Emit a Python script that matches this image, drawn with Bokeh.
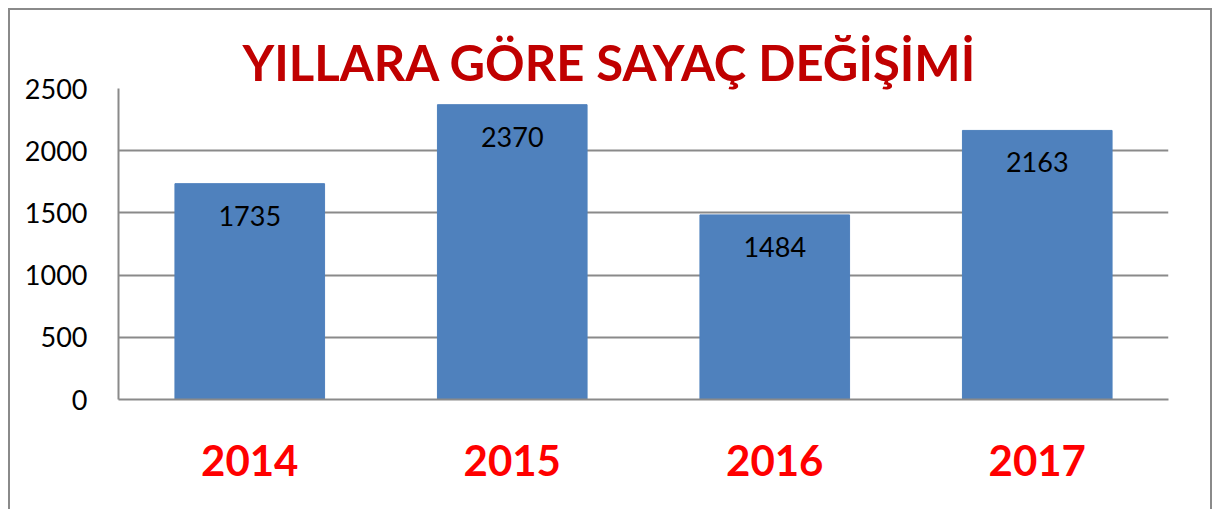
from bokeh.plotting import figure
from bokeh.models import ColumnDataSource, FixedTicker, LabelSet, Range1d
from bokeh.core.properties import value
from bokeh.embed import file_html
from bokeh.resources import INLINE

# ---- data ----
years = ["2014", "2015", "2016", "2017"]
counts = [1735, 2370, 1484, 2163]
y_ticks = [0, 500, 1000, 1500, 2000, 2500]
title_text = "YILLARA GÖRE SAYAÇ DEĞİŞİMİ"

source = ColumnDataSource(data=dict(
    year=years,
    count=counts,
    label=[str(c) for c in counts],
))

p = figure(
    x_range=years,
    y_range=Range1d(0, 2500),
    width=1204, height=501,
    output_backend="svg",
    toolbar_location=None,
    min_border_left=110, min_border_right=44,
    min_border_top=80, min_border_bottom=110,
    background_fill_color="white",
    border_fill_color=None,
)
p.styles = {
    "margin-left": "8px",
    "margin-top": "8px",
    "background-color": "white",
    "box-shadow": "inset 2px 2px 0 0 #8A8A8A, inset -2px 0 0 0 #8A8A8A",
}
p.outline_line_color = None

# title
p.title.text = title_text
p.title.align = "left"
p.title.offset = 124
p.title.standoff = -5
p.title.text_font = "Lato"
p.title.text_font_style = "bold"
p.title.text_font_size = "49px"
p.title.text_color = "#C00000"

p.vbar(x="year", top="count", width=0.57, source=source,
       fill_color="#4F81BD", line_color="#4F81BD")

labels = LabelSet(x="year", y="count", text="label", source=source,
                  text_align="center", text_baseline="middle",
                  y_offset=-32, text_font=value("Lato"),
                  text_font_size="27px", text_color="black")
p.add_layout(labels)

# y axis
p.yaxis.ticker = FixedTicker(ticks=y_ticks)
p.yaxis.major_tick_line_color = None
p.yaxis.minor_tick_line_color = None
p.yaxis.major_tick_in = 0
p.yaxis.major_tick_out = 0
p.yaxis.major_label_standoff = 31
p.yaxis.axis_line_color = "#8A8A8A"
p.yaxis.axis_line_width = 2
p.yaxis.major_label_text_font = "Lato"
p.yaxis.major_label_text_font_size = "27px"
p.yaxis.major_label_text_color = "black"

# x axis
p.xaxis.major_tick_line_color = None
p.xaxis.major_tick_in = 0
p.xaxis.major_tick_out = 0
p.xaxis.major_label_standoff = 45
p.xaxis.axis_line_color = "#8A8A8A"
p.xaxis.axis_line_width = 2
p.xaxis.major_label_text_font = "Lato"
p.xaxis.major_label_text_font_style = "bold"
p.xaxis.major_label_text_font_size = "42px"
p.xaxis.major_label_text_color = "#FF0000"

# grid
p.xgrid.grid_line_color = None
p.ygrid.grid_line_color = "#8A8A8A"
p.ygrid.grid_line_width = 2

open("out.html", "w").write(file_html(p, INLINE))
